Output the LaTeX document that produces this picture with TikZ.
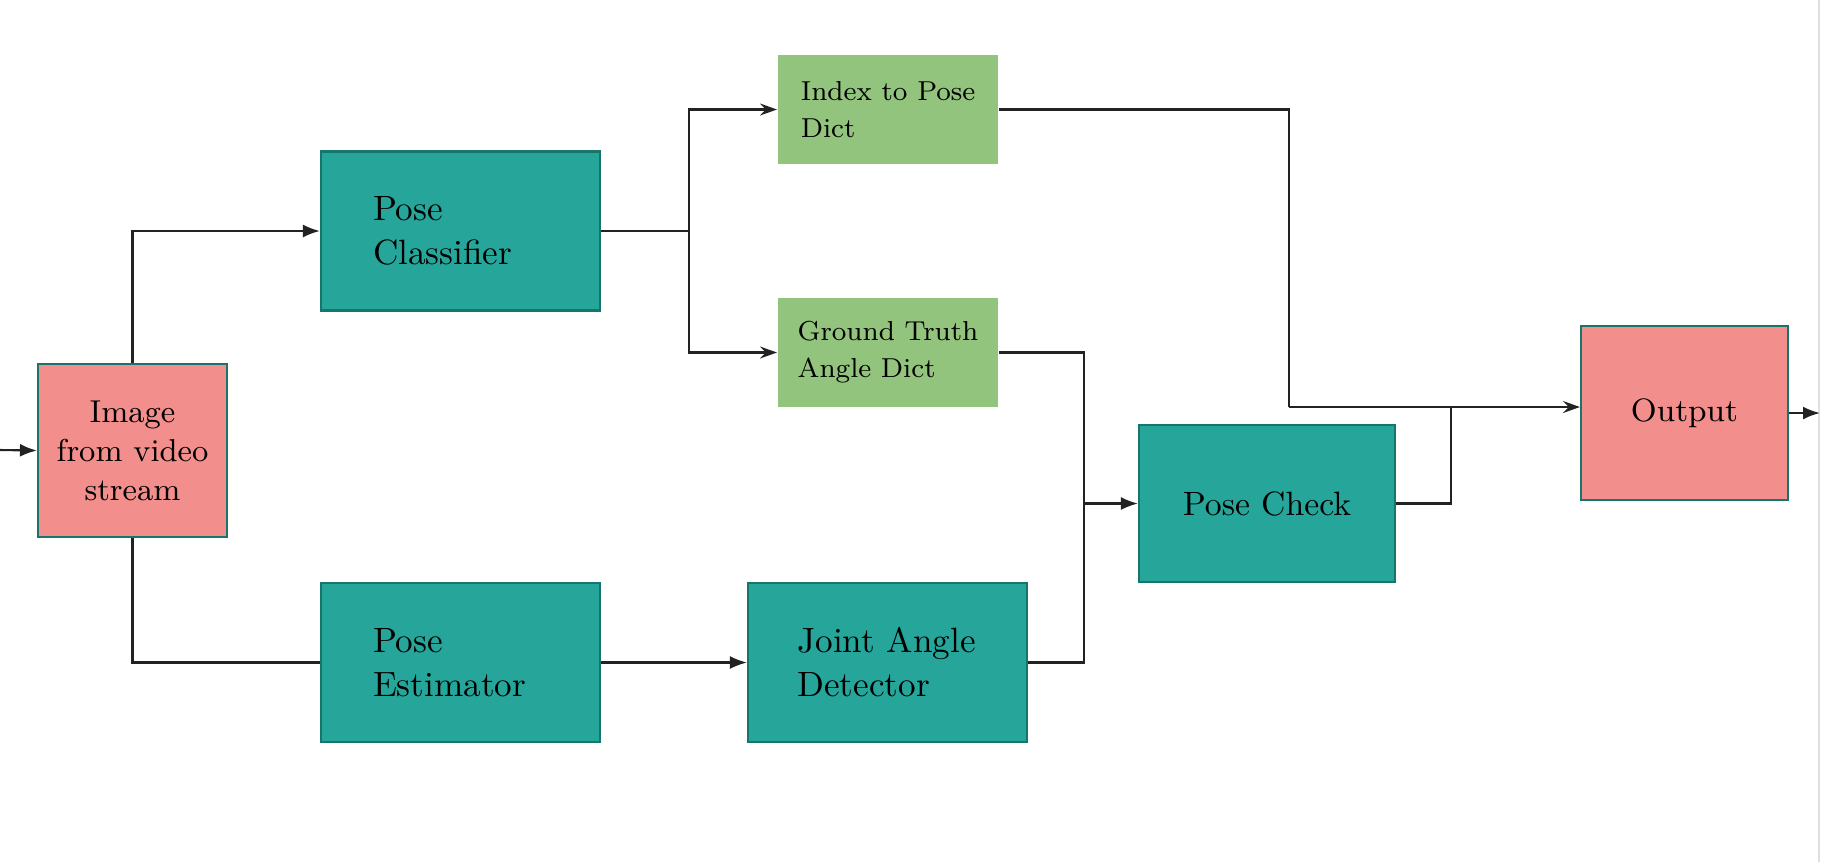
\documentclass[tikz,border=0pt]{standalone}
\usepackage{tikz}
\usetikzlibrary{arrows.meta, positioning}
\definecolor{tealbox}{HTML}{26A69A}
\definecolor{tealedge}{HTML}{16766C}
\definecolor{pinkbox}{HTML}{F28F8C}
\definecolor{greenbox}{HTML}{93C47D}
\definecolor{wirecol}{HTML}{222222}

\begin{document}
\begin{tikzpicture}[line width=0.6pt,
  block/.style = {draw=tealedge, fill=tealbox, minimum width=2.79cm, minimum height=1.59cm, text width=1.75cm, align=left, inner sep=0pt, font=\fontsize{10}{12.5}\selectfont},
  endpt/.style = {draw=tealedge, fill=pinkbox, align=center, inner sep=0pt},
  dict/.style = {fill=greenbox, minimum width=2.2cm, minimum height=1.09cm, align=left, inner sep=0pt, font=\fontsize{7.8}{10.6}\selectfont},
  wire/.style = {draw=wirecol, line width=0.6pt},
  solid tip/.style = {-{Latex[length=1.7mm, width=1.3mm]}},
  open tip/.style = {-{Stealth[length=1.7mm, width=1.2mm, inset=0.6mm]}}]
\useasboundingbox (0,0) rectangle (18.22,-8.62);
\draw[gray!25, line width=0.8pt] (18.19,0) -- (18.19,-8.62);
\node[endpt, minimum width=1.89cm, minimum height=1.73cm, font=\fontsize{9}{11.1}\selectfont] (img) at (1.325,-4.505) {Image\\from video\\stream};
\node[block] (cls) at (4.605,-2.31) {Pose\\Classifier};
\node[block] (est) at (4.605,-6.625) {Pose\\Estimator};
\node[block, text width=1.8cm] (jad) at (8.875,-6.625) {Joint Angle\\Detector};
\node[dict] (idx) at (8.88,-1.095) {Index to Pose\\Dict};
\node[dict] (gtd) at (8.88,-3.525) {Ground Truth\\Angle Dict};
\node[block, minimum width=2.56cm, minimum height=1.57cm, text width=2.2cm, align=center, font=\fontsize{9.6}{12}\selectfont] (chk) at (12.67,-5.035) {Pose Check};
\node[endpt, minimum width=2.07cm, minimum height=1.74cm, font=\fontsize{9.2}{11}\selectfont] (out) at (16.845,-4.13) {Output};
\coordinate (src) at (0,-4.5);
\coordinate (fork) at (6.89,-2.31);
\coordinate (merge) at (10.84,-5.035);
\coordinate (bend) at (12.89,-4.07);
\coordinate (join) at (14.51,-4.07);
\coordinate (sink) at (18.2,-4.13);
\draw[wire, solid tip] (src) -- (img.west);
\draw[wire, solid tip] (img.north) |- (cls.west);
\draw[wire] (img.south) |- (est.west);
\draw[wire] (cls.east) -- (fork);
\draw[wire, open tip] (fork) |- (idx.west);
\draw[wire, open tip] (fork) |- (gtd.west);
\draw[wire, solid tip] (est) -- (jad);
\draw[wire] (gtd.east) -| (merge) |- (jad.east);
\draw[wire, solid tip] (merge) -- (chk.west);
\draw[wire] (idx.east) -| (bend);
\draw[wire, open tip] (bend) -- (bend -| out.west);
\draw[wire] (chk.east) -| (join);
\draw[wire, solid tip] (out.east) -- (sink);
\end{tikzpicture}
\end{document}
